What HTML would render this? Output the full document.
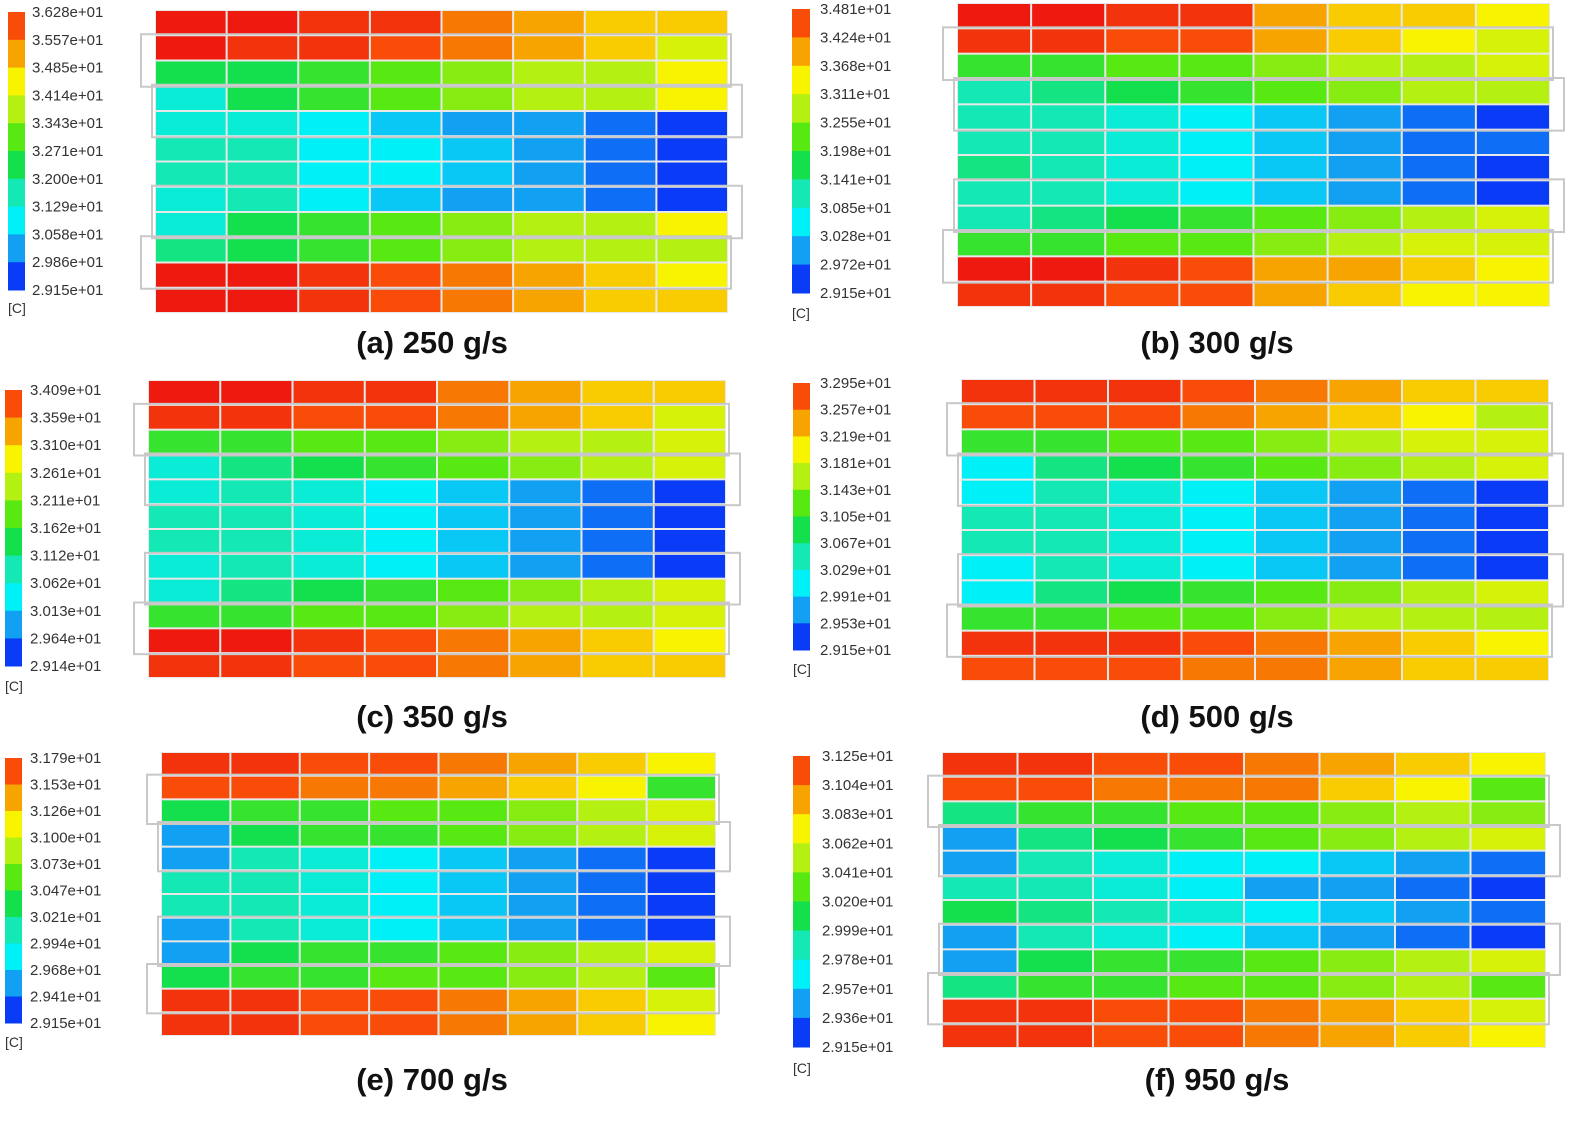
<!DOCTYPE html>
<html><head><meta charset="utf-8"><style>
html,body{margin:0;padding:0;background:#fff;}
svg{display:block;font-family:"Liberation Sans",Arial,sans-serif;}
</style></head><body>
<svg id="chart" width="1592" height="1139" viewBox="0 0 1592 1139" xmlns="http://www.w3.org/2000/svg"></svg>
<script>
// palette levels 0..10 (low -> high temperature)
const palette = ['#0a3cf8','#12a0f2','#00f0f8','#14e8b4','#14e04e','#58e812','#b4f012','#f8f400','#f8a400','#f84c08','#ee1a10'];
const captions = ['(a) 250 g/s','(b) 300 g/s','(c) 350 g/s','(d) 500 g/s','(e) 700 g/s','(f) 950 g/s'];
const ticksA = ['3.628e+01','3.557e+01','3.485e+01','3.414e+01','3.343e+01','3.271e+01','3.200e+01','3.129e+01','3.058e+01','2.986e+01','2.915e+01'];
const ticksB = ['3.481e+01','3.424e+01','3.368e+01','3.311e+01','3.255e+01','3.198e+01','3.141e+01','3.085e+01','3.028e+01','2.972e+01','2.915e+01'];
const ticksC = ['3.409e+01','3.359e+01','3.310e+01','3.261e+01','3.211e+01','3.162e+01','3.112e+01','3.062e+01','3.013e+01','2.964e+01','2.914e+01'];
const ticksD = ['3.295e+01','3.257e+01','3.219e+01','3.181e+01','3.143e+01','3.105e+01','3.067e+01','3.029e+01','2.991e+01','2.953e+01','2.915e+01'];
const ticksE = ['3.179e+01','3.153e+01','3.126e+01','3.100e+01','3.073e+01','3.047e+01','3.021e+01','2.994e+01','2.968e+01','2.941e+01','2.915e+01'];
const ticksF = ['3.125e+01','3.104e+01','3.083e+01','3.062e+01','3.041e+01','3.020e+01','2.999e+01','2.978e+01','2.957e+01','2.936e+01','2.915e+01'];
const gridA = [
[10,10,9.5,9.5,8.5,8,7.5,7.5],[10,9.5,9.5,9,8.5,8,7.5,6.5],[4,4,4.5,5,5.5,6,6,7],[2.5,4,4.5,5,5.5,6,6,7],
[2.5,2.5,2,1.5,1,1,0.5,0],[3,3,2,2,1.5,1,0.5,0],[3,3,2,2,1.5,1,0.5,0],[2.5,3,2,1.5,1,1,0.5,0],
[2.5,4,4.5,5,5.5,6,6,7],[3.5,4,4.5,5,5.5,6,6,6],[10,10,9.5,9,8.5,8,7.5,7],[10,10,9.5,9,8.5,8,7.5,7.5]];
const gridB = [
[10,10,9.5,9.5,8,7.5,7.5,7],[9.5,9.5,9,9,8,7.5,7,6.5],[4.5,4.5,5,5,5.5,6,6,6.5],[3,3.5,4,4.5,5,5.5,6,6],
[3,3,2.5,2,1.5,1,0.5,0],[3,3,2.5,2,1.5,1,0.5,0.5],[3.5,3,2.5,2,1.5,1,0.5,0],[3,3,2.5,2,1.5,1,0.5,0],
[3,3.5,4,4.5,5,5.5,6,6.5],[4.5,4.5,5,5,5.5,6,6.5,6.5],[10,10,9.5,9,8,8,7.5,7],[9.5,9.5,9,9,8,7.5,7,7]];
const gridC = [
[10,10,9.5,9.5,8.5,8,7.5,7.5],[9.5,9.5,9,9,8.5,8,7.5,6.5],[4.5,4.5,5,5,5.5,6,6,6.5],[2.5,3.5,4,4.5,5,5.5,6,6.5],
[2.5,3,2.5,2,1.5,1,0.5,0],[3,3,2.5,2,1.5,1,0.5,0],[3,3,2.5,2,1.5,1,0.5,0],[2.5,3,2.5,2,1.5,1,0.5,0],
[2.5,3.5,4,4.5,5,5.5,6,6.5],[4.5,4.5,5,5,5.5,6,6,6.5],[10,10,9.5,9,8.5,8,7.5,7],[9.5,9.5,9,9,8.5,8,7.5,7.5]];
const gridD = [
[9.5,9.5,9.5,9,8.5,8,7.5,7.5],[9,9,9,8.5,8,7.5,7,6],[4.5,4.5,5,5,5.5,6,6.5,6.5],[2,3.5,4,4.5,5,5.5,6,6.5],
[2,3,2.5,2,1.5,1,0.5,0],[3,3,2.5,2,1.5,1,0.5,0],[3,3,2.5,2,1.5,1,0.5,0],[2,3,2.5,2,1.5,1,0.5,0],
[2,3.5,4,4.5,5,5.5,6,6.5],[4.5,4.5,5,5,5.5,6,6,6],[9.5,9.5,9.5,9,8.5,8,7.5,7],[9,9,9,8.5,8.5,8,7.5,7.5]];
const gridE = [
[9.5,9.5,9,9,8.5,8,7.5,7],[9,9,8.5,8.5,8,7.5,7,4.5],[4,4.5,4.5,5,5,5.5,6,6.5],[1,4,4.5,4.5,5,5.5,6,6.5],
[1,3,2.5,2,1.5,1,0.5,0],[3,3,2.5,2,1.5,1,0.5,0],[3,3,2.5,2,1.5,1,0.5,0],[1,3,2.5,2,1.5,1,0.5,0],
[1,4,4.5,4.5,5,5.5,6,6.5],[4,4.5,4.5,5,5,5.5,6,5],[9.5,9.5,9,9,8.5,8,7.5,6.5],[9.5,9.5,9,9,8.5,8,7.5,7]];
const gridF = [
[9.5,9.5,9,9,8.5,8,7.5,7],[9,9,8.5,8.5,8.5,7.5,7,5],[3.5,4.5,4.5,5,5,5.5,6,5.5],[1,3.5,4,4.5,5,5.5,6,6.5],
[1,3,2.5,2,2,1.5,1,0.5],[3,3,2.5,2,1,1,0.5,0],[4,3.5,3,2.5,2,1.5,1,0.5],[1,3,2.5,2,1.5,1,0.5,0],
[1,4,4.5,4.5,5,5.5,6,6.5],[3.5,4.5,4.5,5,5,5.5,6,5],[9.5,9.5,9,9,8.5,8,7.5,6.5],[9.5,9.5,9,9,8.5,8,7.5,7]];

const svg = document.getElementById('chart');
const NS = 'http://www.w3.org/2000/svg';
function mk(tag, attrs, parent){const e=document.createElementNS(NS,tag);for(const k in attrs)e.setAttribute(k,attrs[k]);(parent||svg).appendChild(e);return e;}
function hex(h){return [1,3,5].map(i=>parseInt(h.substr(i,2),16));}
function colorOf(v){v=Math.max(0,Math.min(10,v));const i=Math.floor(v),f=v-i;if(i>=10)return palette[10];
 const a=hex(palette[i]),b=hex(palette[i+1]);return 'rgb('+a.map((c,k)=>Math.round(c+(b[k]-c)*f)).join(',')+')';}

const panels = [
 {ticks:ticksA,grid:gridA,bar:[8,12,17,278],lx:32,gx:[155,728],gy:[10,313],cx:432,cy:342,unitY:308},
 {ticks:ticksB,grid:gridB,bar:[792,9,18,284],lx:820,gx:[957,1550],gy:[3,307],cx:1217,cy:342,unitY:313},
 {ticks:ticksC,grid:gridC,bar:[5,390,17,276],lx:30,gx:[148,726],gy:[380,678],cx:432,cy:716,unitY:686},
 {ticks:ticksD,grid:gridD,bar:[793,383,17,267],lx:820,gx:[961,1549],gy:[379,681],cx:1217,cy:716,unitY:669},
 {ticks:ticksE,grid:gridE,bar:[5,758,17,265],lx:30,gx:[161,716],gy:[752,1036],cx:432,cy:1079,unitY:1042},
 {ticks:ticksF,grid:gridF,bar:[793,756,17,291],lx:822,gx:[942,1546],gy:[752,1048],cx:1217,cy:1079,unitY:1068}
];

panels.forEach((p,pi)=>{
 const g=mk('g',{});
 
 
 // colorbar
 const [bx,by,bw,bh]=p.bar; const nb=p.ticks.length-1;
 const bandY=i=>by+bh*i/nb;
 for(let i=0;i<nb;i++){
  const r=mk('rect',{x:bx,y:bandY(i),width:bw,height:bandY(i+1)-bandY(i)+0.5,fill:colorOf(9-i)},g);
  
  
 }
 p.ticks.forEach((t,i)=>{
  const tx=mk('text',{x:p.lx,y:bandY(i)+5,'font-size':15,fill:'#333'},g);
  tx.textContent=t;
  
  
 });
 const u=mk('text',{x:bx,y:p.unitY+5,'font-size':14,fill:'#333'},g);u.textContent='[C]';
 
 
 // grid of cells
 const rows=p.grid.length, cols=p.grid[0].length;
 const xs=c=>p.gx[0]+(p.gx[1]-p.gx[0])*c/cols;
 const ys=r=>p.gy[0]+(p.gy[1]-p.gy[0])*r/rows;
 mk('rect',{x:p.gx[0],y:p.gy[0],width:p.gx[1]-p.gx[0],height:p.gy[1]-p.gy[0],fill:'#e8e8e8'},g);
 p.grid.forEach((row,r)=>row.forEach((v,c)=>{
  const cell=mk('rect',{x:xs(c)+1,y:ys(r)+1,width:xs(c+1)-xs(c)-2,height:ys(r+1)-ys(r)-2,fill:colorOf(v)},g);
  
  
 }));
 // coolant channel outlines
 [[1,3,-14,3],[3,5,-3,14],[7,9,-3,14],[9,11,-14,3]].forEach(([r0,r1,dl,dr])=>{
  const o=mk('rect',{x:p.gx[0]+dl,y:ys(r0)-1,width:p.gx[1]-p.gx[0]-dl+dr,height:ys(r1)-ys(r0)+2,fill:'none',stroke:'#c8c8c8','stroke-width':2},g);
  
  
 });
 const cap=mk('text',{x:p.cx,y:p.cy+11,'font-size':31,'font-weight':'bold','text-anchor':'middle',fill:'#111'},g);
 cap.textContent=captions[pi];
 
 
});
</script>
</body></html>
